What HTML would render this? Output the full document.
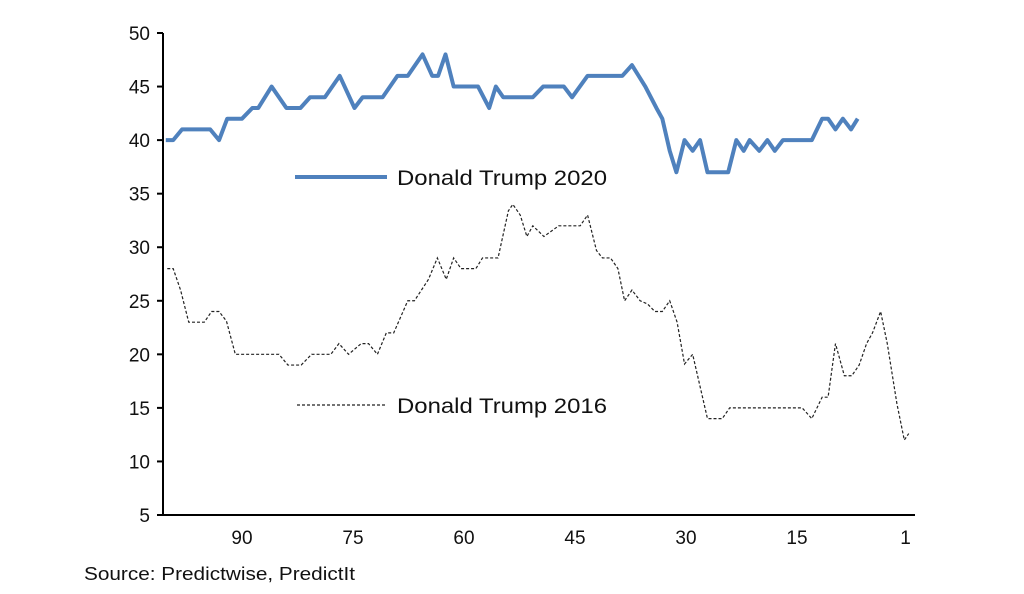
<!DOCTYPE html>
<html><head><meta charset="utf-8"><style>
body{margin:0;background:#fff;width:1024px;height:589px;overflow:hidden}
text{font-family:"Liberation Sans",Arial,sans-serif}
</style></head><body>
<svg id="chart" width="1024" height="589" viewBox="0 0 1024 589" xmlns="http://www.w3.org/2000/svg">
<g id="axes"></g>
<g id="series"></g>
<g>
<line x1="295" y1="177" x2="387" y2="177" stroke="#4f81bd" stroke-width="4"/>
<text x="397" y="185" font-size="21" textLength="210" lengthAdjust="spacingAndGlyphs" fill="#111">Donald Trump 2020</text>
<line x1="297" y1="405" x2="385" y2="405" stroke="#222" stroke-width="1.2" stroke-dasharray="3,2"/>
<text x="397" y="413" font-size="21" textLength="210" lengthAdjust="spacingAndGlyphs" fill="#111">Donald Trump 2016</text>
</g>
<text x="84" y="580" font-size="18" textLength="271" lengthAdjust="spacingAndGlyphs" fill="#111">Source: Predictwise, PredictIt</text>
</svg>
<script>
const yTicks=[5,10,15,20,25,30,35,40,45,50];
const xTicks=[90,75,60,45,30,15,1];
const days2020=[100.3,99.3,98.1,94.3,93.1,92.0,90.0,88.6,87.8,86.0,84.0,82.1,80.8,78.8,76.8,74.8,73.7,71.0,69.0,67.6,65.6,64.3,63.5,62.5,61.4,58.1,56.6,55.7,54.7,50.7,49.3,46.5,45.4,43.3,38.6,37.3,35.5,34.0,33.2,32.2,31.3,30.2,29.1,28.1,27.1,24.3,23.2,22.2,21.4,20.1,19.0,18.0,16.9,13.0,11.6,10.8,9.8,8.8,7.7,6.8];
const vals2020=[40,40,41,41,40,42,42,43,43,45,43,43,44,44,46,43,44,44,46,46,48,46,46,48,45,45,43,45,44,44,45,45,44,46,46,47,45,43,42,39,37,40,39,40,37,37,40,39,40,39,40,39,40,40,42,42,41,42,41,42];
const days2016=[100.1,99.3,98.3,97.2,95.1,94.1,93.1,92.1,90.9,85.0,83.8,82.0,80.6,78.0,76.9,75.6,73.9,72.9,71.7,70.5,69.5,67.6,66.7,64.8,63.6,62.4,61.4,60.4,58.4,57.5,55.4,54.0,53.4,52.4,51.5,50.7,49.2,47.2,44.3,43.3,42.1,41.3,40.2,39.2,38.3,37.3,36.2,35.2,34.2,33.2,32.2,31.2,30.2,29.1,28.1,27.1,25.1,24.1,14.3,13.0,11.6,10.8,9.8,8.6,7.6,6.6,5.6,4.8,3.7,2.8,1.5,0.5,-0.1];
const vals2016=[28,28,26,23,23,24,24,23.1,20,20,19,19,20,20,21,20,21,21,20,22,22,25,25,27,29,27,29,28,28,29,29,33.4,34,33,31,32,31,32,32,33,29.7,29,29,28,25,26,25,24.7,24,24,25,23,19.1,20,17,14,14,15,15,14,16,16,21,18,18,19,21,22,24,21,15.4,12,12.6];
const NS="http://www.w3.org/2000/svg";
const X=d=>242+(90-d)*7.4;
const Y=v=>33+(50-v)*(482/45);
function mk(tag,attrs,parent){const e=document.createElementNS(NS,tag);for(const k in attrs)e.setAttribute(k,attrs[k]);parent.appendChild(e);return e;}
const axes=document.getElementById('axes');
let a=mk('line',{x1:163,y1:33,x2:163,y2:Y(5),stroke:'#000','stroke-width':2},axes);


a=mk('line',{x1:163,y1:Y(5),x2:915,y2:Y(5),stroke:'#000','stroke-width':2},axes);


yTicks.forEach(v=>{
 const t=mk('line',{x1:157,y1:Y(v),x2:163,y2:Y(v),stroke:'#000','stroke-width':2},axes);
 
 
 const l=mk('text',{x:150,y:Y(v)+7,'text-anchor':'end','font-size':19,fill:'#111'},axes);
 l.textContent=v;
 
 
});
xTicks.forEach(d=>{
 const l=mk('text',{x:X(d)+(d===1?5:0),y:544,'text-anchor':'middle','font-size':19,fill:'#111'},axes);
 l.textContent=d;
 
 
});
const s=document.getElementById('series');
const p1=mk('polyline',{points:days2016.map((d,i)=>X(d)+','+Y(vals2016[i])).join(' '),fill:'none',stroke:'#222','stroke-width':1.2,'stroke-dasharray':'3,2'},s);


const p2=mk('polyline',{points:days2020.map((d,i)=>X(d)+','+Y(vals2020[i])).join(' '),fill:'none',stroke:'#4f81bd','stroke-width':4,'stroke-linejoin':'round'},s);


</script>
</body></html>
